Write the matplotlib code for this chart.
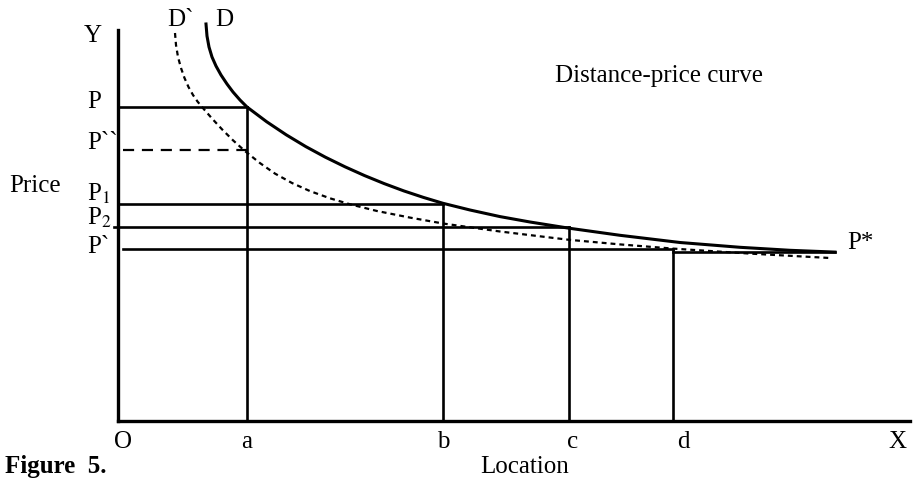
import matplotlib.pyplot as plt

plt.rcParams['font.family'] = ['Liberation Serif', 'DejaVu Serif']
plt.rcParams['mathtext.fontset'] = 'stix'

# positions (pixel units, y grows downward)
origin = (118, 421)
x_end = 910
y_top = 30

loc_names = ['a', 'b', 'c', 'd']
loc_x = [247, 443, 569, 673]

price_names = ['P', 'P``', 'P$_1$', 'P$_2$', 'P`']
price_y = [107, 150, 204, 227, 249]
price_start = [118, 123, 118, 114, 123]
price_end = [247, 247, 443, 569, 673]

# demand curve D
d_x = [206, 207, 209, 212, 216, 221, 227, 233, 240, 247, 266.6, 286.2, 305.8,
       325.4, 345, 364.6, 384.2, 403.8, 423.4, 443, 470, 500, 530, 569, 620,
       680, 740, 790, 835]
d_y = [24, 36, 47, 57, 66, 75, 84, 92, 100, 107, 121.7, 134.8, 146.6,
       157.2, 166.8, 175.6, 183.6, 190.9, 197.4, 203.3, 210, 216.6, 222, 228.2, 235.3,
       242.5, 247.3, 250.3, 252.1]

# shifted curve D`
d2_x = [175, 176, 178, 181, 184.5, 188.5, 193, 197.5, 202, 212, 222, 233, 245,
        260, 275, 292, 310, 330, 350, 377, 410, 443, 500, 569, 620, 673, 750, 830]
d2_y = [33, 45, 57, 68, 78, 87, 95, 101.5, 107, 118.5, 129.3, 140.3, 151.1,
        163.1, 173.6, 183, 191.1, 198.3, 204.3, 211, 217.6, 223.5, 231.5, 239.8,
        244.4, 248.6, 253.6, 258]

fig = plt.figure(figsize=(9.14, 4.84), dpi=100)
ax = fig.add_axes([0, 0, 1, 1])
ax.set_xlim(0, 914)
ax.set_ylim(484, 0)
ax.axis('off')

# axes
ax.plot([origin[0], origin[0]], [y_top, origin[1]], color='black', lw=2.4)
ax.plot([origin[0], x_end], [origin[1], origin[1]], color='black', lw=2.4)

# verticals
for x, y in zip(loc_x, price_y[:1] + price_y[2:]):
    ax.plot([x, x], [y, origin[1]], color='black', lw=1.9)

# horizontals
for i, (y, x0, x1) in enumerate(zip(price_y, price_start, price_end)):
    if i == 1:
        ax.plot([x0, x1], [y, y], color='black', lw=1.6, ls=(0, (5, 3.5)))
    else:
        ax.plot([x0, x1], [y, y], color='black', lw=1.9)

# P* level line
ax.plot([673, 835], [252, 252], color='black', lw=1.9)

ax.plot(d_x, d_y, color='black', lw=2.2, solid_joinstyle='round')
ax.plot(d2_x, d2_y, color='black', lw=1.6, ls=(0, (2.2, 1.8)))

fs = 18
ax.text(93, 36, 'Y', fontsize=fs, ha='center', va='center')
ax.text(180, 20, 'D`', fontsize=fs, ha='center', va='center')
ax.text(224, 20, 'D', fontsize=fs, ha='center', va='center')
ax.text(659, 76, 'Distance-price curve', fontsize=fs, ha='center', va='center')
ax.text(35, 186, 'Price', fontsize=fs, ha='center', va='center')
ax.text(860, 243, 'P*', fontsize=fs, ha='center', va='center')

label_y = [102, 143, 194, 218, 247]
for name, y in zip(price_names, label_y):
    ax.text(87, y, name, fontsize=fs, ha='left', va='center')

ax.text(123, 442, 'O', fontsize=fs, ha='center', va='center')
for name, x in zip(loc_names, [247, 443, 573, 683]):
    ax.text(x, 442, name, fontsize=fs, ha='center', va='center')
ax.text(897, 442, 'X', fontsize=fs, ha='center', va='center')

ax.text(5, 466, 'Figure  5.', fontsize=fs, fontweight='bold', ha='left', va='center')
ax.text(525, 467, 'Location', fontsize=fs, ha='center', va='center')

fig.savefig('out.png', dpi=100)
